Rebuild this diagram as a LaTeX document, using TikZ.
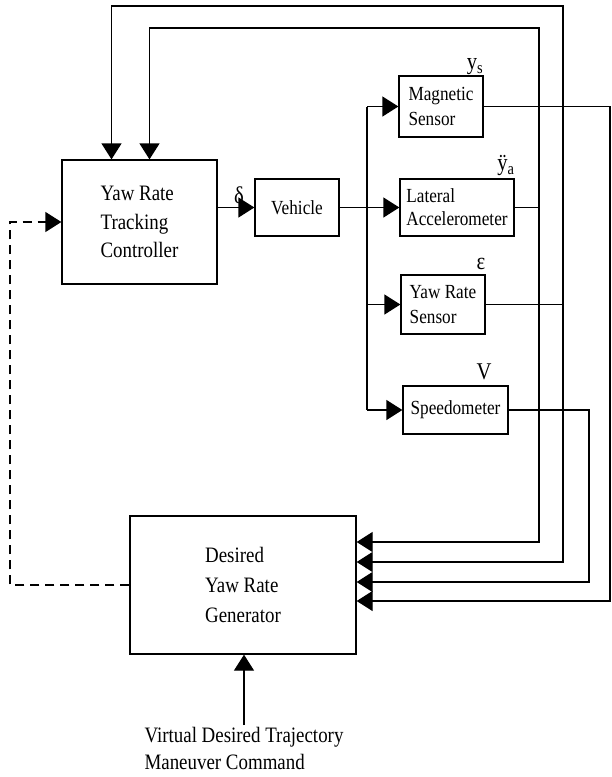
\documentclass[tikz,border=0pt]{standalone}
\usepackage{fontspec}
\setmainfont[FakeStretch=0.86]{Liberation Serif}
\usetikzlibrary{calc, arrows.meta}

\begin{document}
\begin{tikzpicture}[
    x=1pt, y=-1pt,
    blockbox/.style={rectangle, draw, line width=1.3pt, align=left,
                     font=\fontsize{20}{25}\selectfont},
    sig/.style={line width=1.3pt, -{Triangle[length=16pt, width=20pt]}},
    wire/.style={line width=1.3pt},
    dashsig/.style={sig, dash pattern=on 9pt off 6pt},
    sigtag/.style={inner sep=0pt, font=\fontsize{24}{26}\selectfont},
  ]
    \useasboundingbox (0,0) rectangle (612,777);

    % Yaw rate tracking controller
    \node[blockbox, minimum width=155pt, minimum height=124pt,
          font=\fontsize{22}{28.5}\selectfont] (CTRL) at (139.5,222)
      {Yaw Rate\\Tracking\\Controller};

    % Vehicle
    \node[blockbox, minimum width=84pt, minimum height=57pt] (VEH) at (297,207.5)
      {Vehicle};

    % Sensors
    \node[blockbox, minimum width=84pt, minimum height=61pt] (MAG) at (441,106.5)
      {Magnetic\\Sensor};
    \node[blockbox, minimum width=114pt, minimum height=57pt,
          font=\fontsize{20}{23}\selectfont] (LAT) at (457,207.5)
      {Lateral\\Accelerometer};
    \node[blockbox, minimum width=84pt, minimum height=59pt] (YRS) at (443,304.5)
      {Yaw Rate\\Sensor};
    \node[blockbox, minimum width=105pt, minimum height=48pt] (SPD) at (455.5,410)
      {Speedometer};

    % Desired yaw rate generator
    \node[blockbox, minimum width=226pt, minimum height=138pt,
          font=\fontsize{22}{30}\selectfont] (GEN) at (243,585)
      {Desired\\Yaw Rate\\Generator};

    % Command input
    \node[align=left, inner sep=2pt, font=\fontsize{22}{27}\selectfont] (CMD) at (244,748.5)
      {Virtual Desired Trajectory\\Maneuver Command};

    % Signal names
    \node[sigtag] (DELTA) at (239,195) {δ};
    \node[sigtag] (YS) at (475,67) {y\textsubscript{s}};
    \node[sigtag] (YA) at (506,166) {ÿ\textsubscript{a}};
    \node[sigtag] (EPS) at (481,264) {ε};
    \node[sigtag] (VEL) at (484,372) {V};

    % Routing points
    \coordinate (BR) at (367,207.5);
    \coordinate (LATX) at (539,28);
    \coordinate (YRSX) at (563,6);
    \coordinate (SPDX) at (589,0);
    \coordinate (MAGX) at (610,0);
    \coordinate (DL) at (10,0);
    \coordinate (CIN1) at ($(CTRL.north)+(-28,0)$);
    \coordinate (CIN2) at ($(CTRL.north)+(10,0)$);
    \coordinate (GIN1) at ($(GEN.east)+(0,-43)$);
    \coordinate (GIN2) at ($(GEN.east)+(0,-23)$);
    \coordinate (GIN3) at ($(GEN.east)+(0,-3)$);
    \coordinate (GIN4) at ($(GEN.east)+(0,16)$);

    % Forward path
    \draw[sig] (CTRL.east |- VEH.west) -- (VEH.west);
    \draw[wire] (VEH.east) -- (BR);
    \draw[sig] (BR) -- (LAT.west);
    \draw[wire] (BR |- MAG.west) -- (BR |- SPD.west);
    \foreach \s in {MAG, YRS, SPD}
      \draw[sig] (BR |- \s.west) -- (\s.west);

    % Sensor outputs
    \draw[sig] (LAT.east) -| (LATX |- GIN1) -- (GIN1);
    \draw[sig] (LATX |- LAT.east) -- (LATX) -| (CIN2);
    \draw[sig] (YRS.east) -| (YRSX |- GIN2) -- (GIN2);
    \draw[sig] (YRSX |- YRS.east) -- (YRSX) -| (CIN1);
    \draw[sig] (SPD.east) -| (SPDX |- GIN3) -- (GIN3);
    \draw[sig] (MAG.east) -| (MAGX |- GIN4) -- (GIN4);

    % Reference to controller
    \draw[dashsig] (GEN.west) -| (DL |- CTRL.west) -- (CTRL.west);
    \draw[sig] (CMD.north) -- (CMD.north |- GEN.south);
  \end{tikzpicture}
\end{document}
